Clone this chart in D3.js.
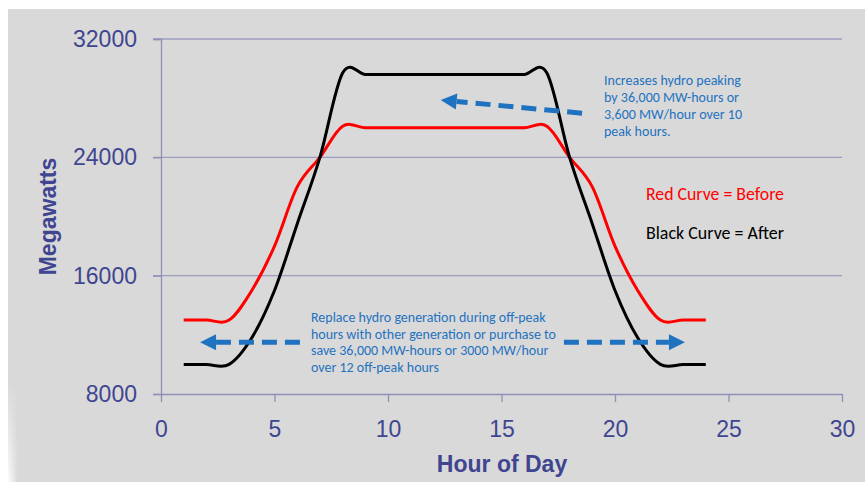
<!DOCTYPE html>
<html>
<head>
<meta charset="utf-8">
<script src="https://cdn.jsdelivr.net/npm/d3@7"></script>
<style>
  html, body { margin: 0; padding: 0; background: #ffffff; }
  svg { display: block; }
</style>
</head>
<body>
<svg id="chart" width="865" height="482"></svg>
<script>
// Hourly load, megawatts
const hours = [1, 2, 3, 4, 5, 6, 7, 8, 9, 10, 11, 12, 13, 14, 15, 16, 17, 18, 19, 20, 21, 22, 23, 24];
const before = [13000, 13000, 13000, 15000, 18000, 22000, 24000, 26100, 26000, 26000, 26000, 26000,
                26000, 26000, 26000, 26000, 26100, 24000, 22000, 18000, 15000, 13000, 13000, 13000];
const after = [10000, 10000, 10000, 11800, 15000, 19500, 24000, 29700, 29600, 29600, 29600, 29600,
               29600, 29600, 29600, 29600, 29700, 24000, 19500, 15000, 11800, 10000, 10000, 10000];

const xTicks = [0, 5, 10, 15, 20, 25, 30];
const yTicks = [8000, 16000, 24000, 32000];

const legendLines = ["Red Curve = Before", "Black Curve = After"];
const peakNote = ["Increases hydro peaking", "by 36,000 MW-hours or", "3,600 MW/hour over 10", "peak hours."];
const offPeakNote = ["Replace hydro generation during off-peak",
                     "hours with other generation or purchase to",
                     "save 36,000 MW-hours or 3000 MW/hour",
                     "over 12 off-peak hours"];

const svg = d3.select("#chart");
const W = 865, H = 482;
const axisColor = "#8f90b8";
const labelColor = "#3f4590";
const noteColor = "#1f72c0";
const noteFont = "Carlito, Lato, 'Open Sans', sans-serif";

// panel background with a soft light fade along the lower-left edge
const defs = svg.append("defs");
const fade = defs.append("linearGradient").attr("id", "edgeFade")
  .attr("x1", "0").attr("x2", "1").attr("y1", "0").attr("y2", "0");
fade.append("stop").attr("offset", "0").attr("stop-color", "#ffffff").attr("stop-opacity", 0.9);
fade.append("stop").attr("offset", "1").attr("stop-color", "#ffffff").attr("stop-opacity", 0);
const fadeV = defs.append("linearGradient").attr("id", "edgeFadeV")
  .attr("x1", "0").attr("x2", "0").attr("y1", "0").attr("y2", "1");
fadeV.append("stop").attr("offset", "0").attr("stop-color", "#fff").attr("stop-opacity", 0);
fadeV.append("stop").attr("offset", "1").attr("stop-color", "#fff").attr("stop-opacity", 1);
const mask = defs.append("mask").attr("id", "edgeMask");
mask.append("rect").attr("x", 0).attr("y", 380).attr("width", 30).attr("height", 102).attr("fill", "url(#edgeFadeV)");

svg.append("rect").attr("x", 8).attr("y", 9).attr("width", W - 8).attr("height", H - 9)
  .attr("fill", "#d9d9d9");
svg.append("rect").attr("x", 8).attr("y", 380).attr("width", 10).attr("height", 102)
  .attr("fill", "url(#edgeFade)").attr("mask", "url(#edgeMask)");

const x = d3.scaleLinear().domain([0, 30]).range([161, 842]);
const y = d3.scaleLinear().domain([8000, 32000]).range([394, 39]);

// horizontal gridlines
svg.append("g").selectAll("line").data(yTicks.filter(d => d > 8000)).join("line")
  .attr("x1", 153).attr("x2", 842)
  .attr("y1", d => y(d)).attr("y2", d => y(d))
  .attr("stroke", "#9c9dbf").attr("stroke-width", 1.3);

// y axis
const yAxis = svg.append("g").attr("transform", `translate(${x(0)},0)`)
  .call(d3.axisLeft(y).tickValues(yTicks).tickSize(8).tickPadding(16).tickFormat(d3.format("d")));
yAxis.select(".domain").attr("stroke", axisColor).attr("stroke-width", 1.3);
yAxis.selectAll(".tick line").attr("stroke", axisColor).attr("stroke-width", 1.3);
yAxis.selectAll(".tick text").attr("fill", labelColor)
  .style("font-family", "'Liberation Sans', Arial, sans-serif").style("font-size", "23px");

// x axis
const xAxis = svg.append("g").attr("transform", `translate(0,${y(8000)})`)
  .call(d3.axisBottom(x).tickValues(xTicks).tickSize(8).tickPadding(19).tickSizeOuter(0));
xAxis.select(".domain").attr("stroke", axisColor).attr("stroke-width", 1.3);
xAxis.selectAll(".tick line").attr("stroke", axisColor).attr("stroke-width", 1.3);
xAxis.selectAll(".tick text").attr("fill", labelColor)
  .style("font-family", "'Liberation Sans', Arial, sans-serif").style("font-size", "23px");

// axis titles
svg.append("text")
  .attr("transform", `translate(56,${(y(8000) + y(32000)) / 2}) rotate(-90)`)
  .attr("text-anchor", "middle")
  .attr("fill", labelColor)
  .style("font-family", "'Liberation Sans', Arial, sans-serif")
  .style("font-size", "23px").style("font-weight", "bold")
  .text("Megawatts");

svg.append("text")
  .attr("x", 502).attr("y", 472)
  .attr("text-anchor", "middle")
  .attr("fill", labelColor)
  .style("font-family", "'Liberation Sans', Arial, sans-serif")
  .style("font-size", "23px").style("font-weight", "bold")
  .text("Hour of Day");

// load curves
const line = d3.line().curve(d3.curveCardinal.tension(0))
  .x(d => x(d[0])).y(d => y(d[1]));

svg.append("path").datum(d3.zip(hours, before))
  .attr("d", line).attr("fill", "none")
  .attr("stroke", "#ff0000").attr("stroke-width", 3);

svg.append("path").datum(d3.zip(hours, after))
  .attr("d", line).attr("fill", "none")
  .attr("stroke", "#000000").attr("stroke-width", 3);

// dashed arrows: [fromHour, fromMW, toHour, toMW]
const arrows = [
  [18.55, 26980, 12.32, 27880],
  [6.12, 11500, 1.72, 11500],
  [17.75, 11500, 23.08, 11500]
];
const headLen = 16, headHalf = 8;
arrows.forEach(([h0, v0, h1, v1]) => {
  const x0 = x(h0), y0 = y(v0), x1 = x(h1), y1 = y(v1);
  const ang = Math.atan2(y1 - y0, x1 - x0);
  const bx = x1 - headLen * Math.cos(ang), by = y1 - headLen * Math.sin(ang);
  svg.append("line")
    .attr("x1", x0).attr("y1", y0).attr("x2", bx).attr("y2", by)
    .attr("stroke", noteColor).attr("stroke-width", 5)
    .attr("stroke-dasharray", "15,8");
  const px = -Math.sin(ang) * headHalf, py = Math.cos(ang) * headHalf;
  svg.append("polygon")
    .attr("points", [[x1, y1], [bx + px, by + py], [bx - px, by - py]].map(p => p.join(",")).join(" "))
    .attr("fill", noteColor);
});

// text blocks sized so a chosen line spans a given width
function block(lines, x0, y0, step, color, refIndex, refWidth) {
  const t = svg.append("text")
    .attr("fill", color)
    .style("font-family", noteFont)
    .style("font-size", "13px");
  const spans = lines.map((s, i) =>
    t.append("tspan").attr("x", x0).attr("y", y0 + i * step).text(s));
  const w = spans[refIndex].node().getComputedTextLength();
  if (w > 0) t.style("font-size", (13 * refWidth / w).toFixed(2) + "px");
  return t;
}
block(peakNote, 604, 85, 17, noteColor, 0, 137);
block(offPeakNote, 311, 322, 16.7, noteColor, 1, 245);
block([legendLines[0]], 646, 200, 0, "#ff0000", 0, 138);
block([legendLines[1]], 646, 239, 0, "#000000", 0, 138);
</script>
</body>
</html>
